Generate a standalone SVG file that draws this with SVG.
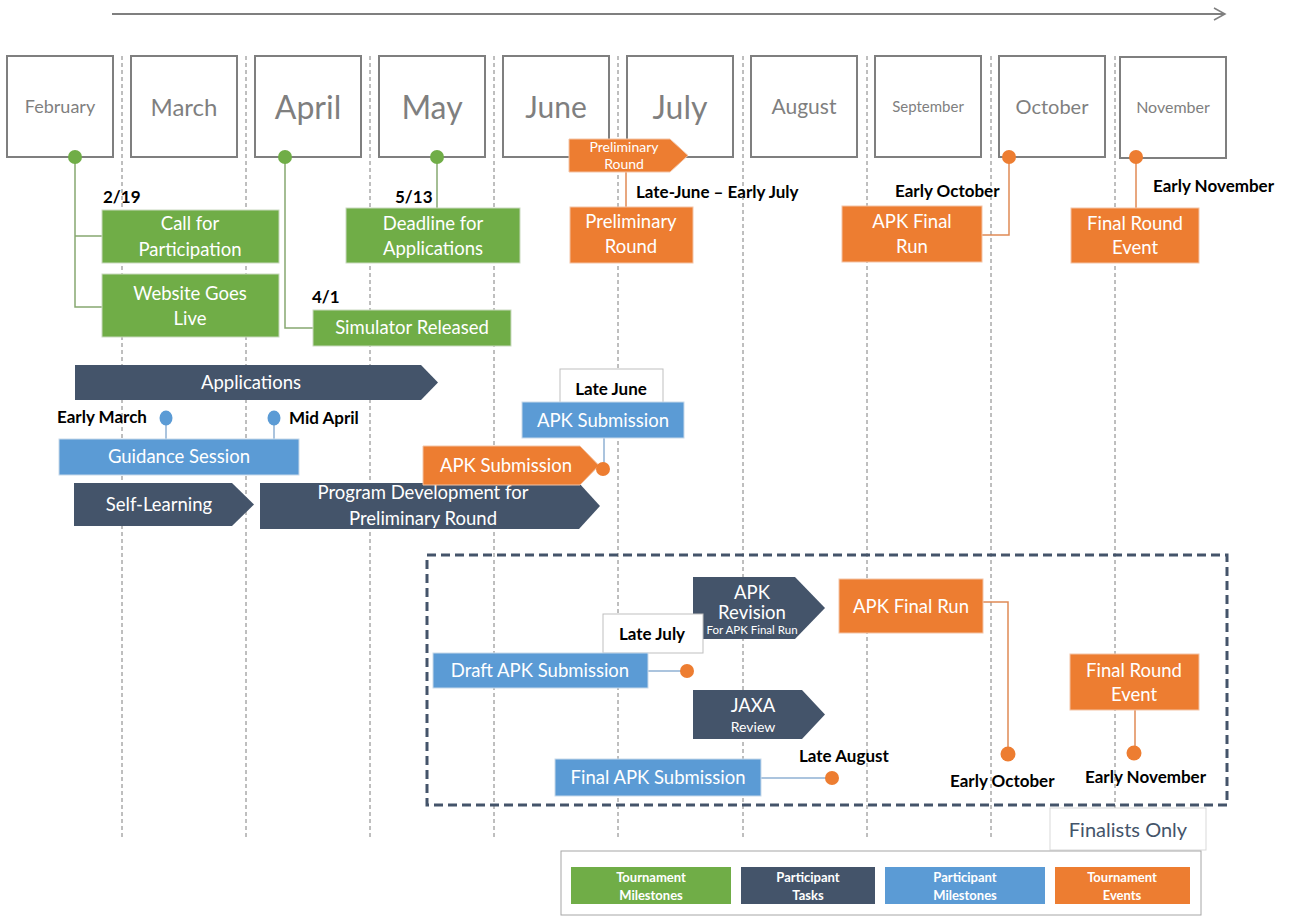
<svg xmlns="http://www.w3.org/2000/svg" width="1297" height="917" viewBox="0 0 1297 917">
<defs>
<style>
text{font-family:Lato,"Open Sans","Liberation Sans",sans-serif;}
.mon{fill:none;stroke:#7f7f7f;stroke-width:2}
.mt{fill:#7f7f7f;text-anchor:middle}
.grid{stroke:#7f7f7f;stroke-width:1;stroke-dasharray:4,3}
.g{fill:#70AD47;stroke:#c9d9bf;stroke-width:1}
.d{fill:#44546A}
.b{fill:#5B9BD5;stroke:#c8d9ea;stroke-width:1}
.o{fill:#ED7D31;stroke:#f3c4a6;stroke-width:1}
.wt{fill:#ffffff;text-anchor:middle;font-size:18.5px}
.ws{fill:#ffffff;text-anchor:middle;font-size:14px}
.wx{fill:#ffffff;text-anchor:middle;font-size:11.5px}
.lb{fill:#000;font-weight:bold;font-size:17px}
.gl{stroke:#86a870;stroke-width:1.5;fill:none}
.ol{stroke:#e08a55;stroke-width:1.5;fill:none}
.bl{stroke:#8fb0d3;stroke-width:1.5;fill:none}
.leg{fill:#fff;font-weight:bold;font-size:13px;text-anchor:middle}
</style>
<marker id="ah" markerWidth="14" markerHeight="14" refX="12" refY="7" orient="auto" markerUnits="userSpaceOnUse">
<path d="M1,1 L12,7 L1,13" fill="none" stroke="#7f7f7f" stroke-width="1.5"/>
</marker>
</defs>
<rect width="1297" height="917" fill="#fff"/>

<g id="timeline-arrow">
<line x1="112" y1="14" x2="1225" y2="14" stroke="#7f7f7f" stroke-width="2" marker-end="url(#ah)"/>
</g>

<g id="grid">
<line class="grid" x1="122" y1="56" x2="122" y2="838"/>
<line class="grid" x1="246" y1="56" x2="246" y2="838"/>
<line class="grid" x1="370" y1="56" x2="370" y2="838"/>
<line class="grid" x1="494" y1="56" x2="494" y2="838"/>
<line class="grid" x1="618" y1="56" x2="618" y2="838"/>
<line class="grid" x1="743" y1="56" x2="743" y2="838"/>
<line class="grid" x1="867" y1="56" x2="867" y2="838"/>
<line class="grid" x1="991" y1="56" x2="991" y2="838"/>
<line class="grid" x1="1115" y1="56" x2="1115" y2="845"/>
</g>

<g id="months">
<g id="m-feb"><rect class="mon" x="7" y="56" width="106" height="101"/><text class="mt" x="60" y="113" font-size="18">February</text></g>
<g id="m-mar"><rect class="mon" x="131" y="56" width="106" height="101"/><text class="mt" x="184" y="116" font-size="24">March</text></g>
<g id="m-apr"><rect class="mon" x="255" y="56" width="106" height="101"/><text class="mt" x="308" y="119" font-size="32">April</text></g>
<g id="m-may"><rect class="mon" x="379" y="56" width="106" height="101"/><text class="mt" x="432" y="119" font-size="32">May</text></g>
<g id="m-jun"><rect class="mon" x="503" y="56" width="106" height="101"/><text class="mt" x="556" y="118" font-size="30">June</text></g>
<g id="m-jul"><rect class="mon" x="627" y="56" width="106" height="101"/><text class="mt" x="680" y="119" font-size="32">July</text></g>
<g id="m-aug"><rect class="mon" x="751" y="56" width="106" height="101"/><text class="mt" x="804" y="114" font-size="21">August</text></g>
<g id="m-sep"><rect class="mon" x="875" y="56" width="106" height="101"/><text class="mt" x="928" y="112" font-size="15">September</text></g>
<g id="m-oct"><rect class="mon" x="999" y="56" width="106" height="101"/><text class="mt" x="1052" y="114" font-size="20">October</text></g>
<g id="m-nov"><rect class="mon" x="1120" y="57" width="106" height="101"/><text class="mt" x="1173" y="113" font-size="16">November</text></g>
</g>

<g id="connectors">
<path class="gl" d="M75,157 V307 H102 M75,236 H102"/>
<path class="gl" d="M285,157 V328 H313"/>
<path class="gl" d="M437,157 V208"/>
<path class="ol" d="M626,172 V207"/>
<path class="ol" d="M1009,157 V235 H982"/>
<path class="ol" d="M1136,157 V208"/>
<path class="bl" d="M166,418 V439"/>
<path class="bl" d="M274,418 V439"/>
<path class="bl" d="M604,438 V469"/>
<path class="bl" d="M648,671 H687"/>
<path class="bl" d="M761,778 H832"/>
<path class="ol" d="M983,602 H1008 V754"/>
<path class="ol" d="M1135,710 V753"/>
</g>

<g id="dots">
<circle cx="75" cy="157" r="7" fill="#70AD47"/>
<circle cx="285" cy="157" r="7" fill="#70AD47"/>
<circle cx="437" cy="157" r="7" fill="#70AD47"/>
<circle cx="1009" cy="157" r="7" fill="#ED7D31"/>
<circle cx="1136" cy="157" r="7" fill="#ED7D31"/>
<ellipse cx="166" cy="418" rx="6.5" ry="7.5" fill="#5B9BD5"/>
<ellipse cx="274" cy="418" rx="6.5" ry="7.5" fill="#5B9BD5"/>
</g>

<g id="n-call"><rect class="g" x="102" y="210" width="177" height="53"/><text class="wt" x="190" y="230">Call for</text><text class="wt" x="190" y="256">Participation</text></g>
<g id="n-website"><rect class="g" x="102" y="274" width="177" height="63"/><text class="wt" x="190" y="300">Website Goes</text><text class="wt" x="190" y="325">Live</text></g>
<g id="n-deadline"><rect class="g" x="346" y="208" width="174" height="55"/><text class="wt" x="433" y="230">Deadline for</text><text class="wt" x="433" y="255">Applications</text></g>
<g id="n-simulator"><rect class="g" x="313" y="310" width="198" height="36"/><text class="wt" x="412" y="334">Simulator Released</text></g>
<g id="lbl-219"><text class="lb" x="103" y="203">2/19</text></g>
<g id="lbl-513"><text class="lb" x="395" y="203">5/13</text></g>
<g id="lbl-41"><text class="lb" x="312" y="303">4/1</text></g>

<g id="n-prelim-arrow"><path class="o" d="M569,139 H670 L688,155.5 L670,172 H569 Z"/><text class="ws" x="624" y="152">Preliminary</text><text class="ws" x="624" y="169">Round</text></g>
<g id="lbl-latejune-earlyjuly"><text class="lb" x="636" y="198">Late-June – Early July</text></g>
<g id="n-prelim"><rect class="o" x="570" y="207" width="123" height="56"/><text class="wt" x="631" y="228">Preliminary</text><text class="wt" x="631" y="253">Round</text></g>
<g id="lbl-earlyoct-top"><text class="lb" x="895" y="197">Early October</text></g>
<g id="n-apkfinal-top"><rect class="o" x="842" y="206" width="140" height="56"/><text class="wt" x="912" y="228">APK Final</text><text class="wt" x="912" y="253">Run</text></g>
<g id="lbl-earlynov-top"><text class="lb" x="1153" y="192">Early November</text></g>
<g id="n-finalround-top"><rect class="o" x="1071" y="208" width="128" height="55"/><text class="wt" x="1135" y="230">Final Round</text><text class="wt" x="1135" y="254">Event</text></g>

<g id="n-applications"><path class="d" d="M75,365 H421 L438,382.5 L421,400 H75 Z"/><text class="wt" x="251" y="389">Applications</text></g>
<g id="lbl-earlymarch"><text class="lb" x="57" y="423">Early March</text></g>
<g id="lbl-midapril"><text class="lb" x="289" y="424">Mid April</text></g>
<g id="n-guidance"><rect class="b" x="59" y="439" width="240" height="36"/><text class="wt" x="179" y="463">Guidance Session</text></g>
<g id="n-selflearning"><path class="d" d="M74,483 H232 L254,504.5 L232,526 H74 Z"/><text class="wt" x="159" y="511">Self-Learning</text></g>
<g id="n-progdev"><path class="d" d="M260,483 H579 L600,506 L579,529 H260 Z"/><text class="wt" x="423" y="499">Program Development for</text><text class="wt" x="423" y="525">Preliminary Round</text></g>
<g id="n-apksub-orange"><path class="o" d="M423,446 H580 L599,465.5 L580,485 H423 Z"/><text class="wt" x="506" y="472">APK Submission</text></g>
<circle cx="603" cy="469" r="7" fill="#ED7D31"/>
<g id="lbl-latejune"><rect x="560" y="369" width="103" height="34" fill="#fff" stroke="#bfbfbf" stroke-width="1"/><text class="lb" x="611" y="395" text-anchor="middle">Late June</text></g>
<g id="n-apksub-blue"><rect class="b" x="522" y="402" width="162" height="36"/><text class="wt" x="603" y="427">APK Submission</text></g>

<g id="finalists-box"><rect x="427" y="555" width="800" height="250" fill="none" stroke="#44546A" stroke-width="3" stroke-dasharray="9,5"/></g>
<g id="n-apkrevision"><path class="d" d="M693,577 H795 L825,608 L795,639 H693 Z"/><text class="wt" x="752" y="599">APK</text><text class="wt" x="752" y="619">Revision</text><text class="wx" x="752" y="634">For APK Final Run</text></g>
<g id="lbl-latejuly"><rect x="603" y="614" width="100" height="39" fill="#fff" stroke="#bfbfbf" stroke-width="1"/><text class="lb" x="652" y="640" text-anchor="middle">Late July</text></g>
<g id="n-draftapk"><rect class="b" x="433" y="653" width="215" height="35"/><text class="wt" x="540" y="677">Draft APK Submission</text></g>
<circle cx="687" cy="671" r="7" fill="#ED7D31"/>
<g id="n-jaxa"><path class="d" d="M693,690 H802 L825,714.5 L802,739 H693 Z"/><text class="wt" x="753" y="712">JAXA</text><text class="ws" x="753" y="732">Review</text></g>
<g id="lbl-lateaugust"><text class="lb" x="799" y="762">Late August</text></g>
<g id="n-finalapk"><rect class="b" x="555" y="759" width="206" height="37"/><text class="wt" x="658" y="784">Final APK Submission</text></g>
<circle cx="832" cy="778" r="7" fill="#ED7D31"/>
<g id="n-apkfinal-bottom"><rect class="o" x="839" y="579" width="144" height="54"/><text class="wt" x="911" y="613">APK Final Run</text></g>
<circle cx="1008" cy="754" r="7.5" fill="#ED7D31"/>
<g id="lbl-earlyoct-bottom"><text class="lb" x="950" y="787">Early October</text></g>
<g id="n-finalround-bottom"><rect class="o" x="1070" y="654" width="129" height="56"/><text class="wt" x="1134" y="677">Final Round</text><text class="wt" x="1134" y="701">Event</text></g>
<circle cx="1134" cy="753" r="7.5" fill="#ED7D31"/>
<g id="lbl-earlynov-bottom"><text class="lb" x="1085" y="783">Early November</text></g>
<g id="lbl-finalists"><rect x="1050" y="808" width="156" height="42" fill="#fff" stroke="#d9d9d9" stroke-width="1"/><text x="1128" y="837" text-anchor="middle" font-size="20" fill="#44546A">Finalists Only</text></g>

<g id="legend">
<rect x="561" y="851" width="640" height="64" fill="#fff" stroke="#a6a6a6" stroke-width="1"/>
<rect x="571" y="867" width="160" height="37" fill="#70AD47"/><text class="leg" x="651" y="882">Tournament</text><text class="leg" x="651" y="900">Milestones</text>
<rect x="741" y="867" width="134" height="37" fill="#44546A"/><text class="leg" x="808" y="882">Participant</text><text class="leg" x="808" y="900">Tasks</text>
<rect x="885" y="867" width="160" height="37" fill="#5B9BD5"/><text class="leg" x="965" y="882">Participant</text><text class="leg" x="965" y="900">Milestones</text>
<rect x="1055" y="867" width="135" height="37" fill="#ED7D31"/><text class="leg" x="1122" y="882">Tournament</text><text class="leg" x="1122" y="900">Events</text>
</g>
</svg>
